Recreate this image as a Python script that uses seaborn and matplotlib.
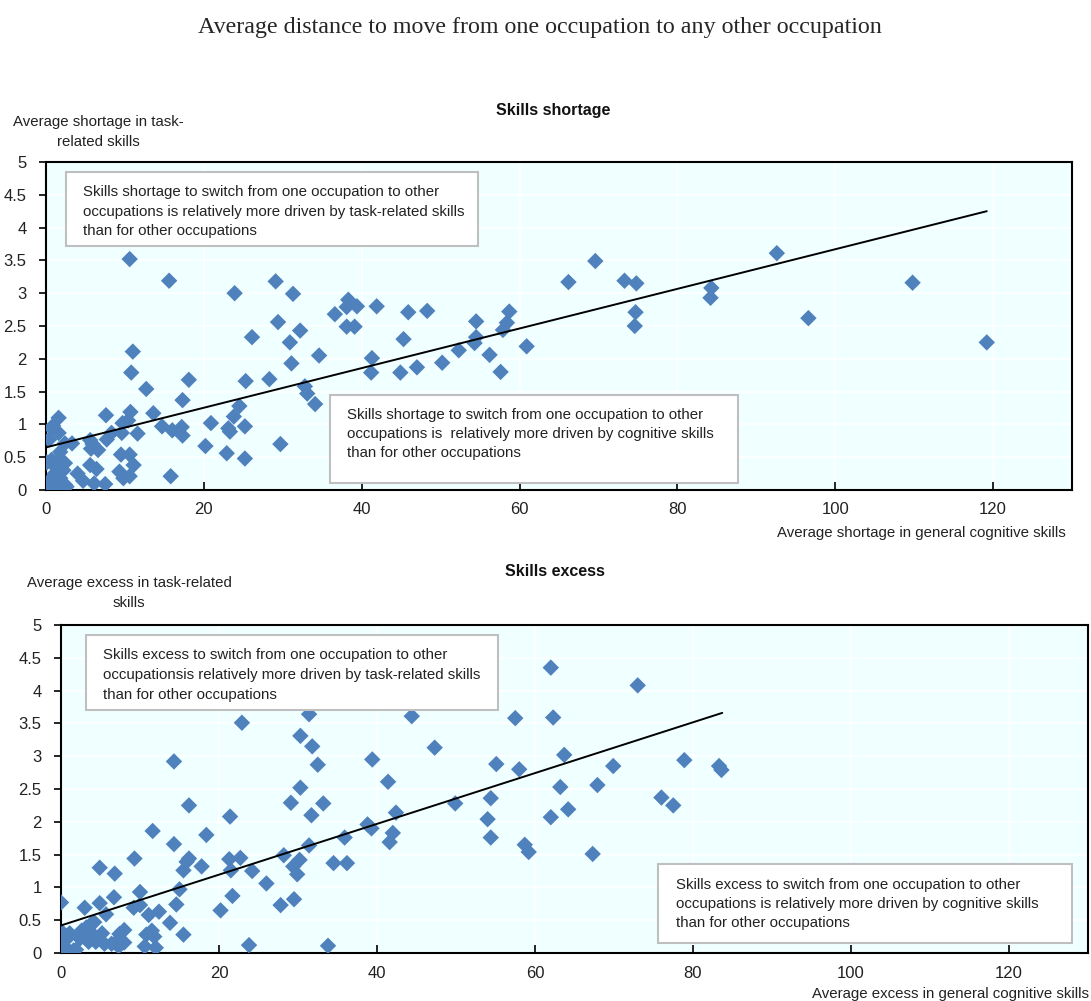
import numpy as np
import pandas as pd
import matplotlib
matplotlib.use("Agg")
import matplotlib.pyplot as plt
from matplotlib.patches import Rectangle
import seaborn as sns

# ---------------- data ----------------
short_x = [10.6, 15.6, 23.9, 29.1, 31.3, 29.4, 32.2, 26.1, 30.9, 31.1, 34.6, 28.3, 25.3, 18.1,
           12.7, 10.8, 11.0, 17.3, 13.6, 10.7, 10.4, 9.7, 7.6, 1.6, 14.7, 16.0, 17.2, 17.3, 20.9,
           23.1, 23.3, 23.8, 24.5, 25.2, 20.2, 22.9, 25.2, 29.7, 32.8, 33.1, 34.1, 15.8, 11.6, 9.6,
           8.3, 7.7, 6.6, 5.6, 5.7, 5.9, 3.3, 9.5, 10.6, 11.1, 9.3, 9.8, 10.6, 5.6, 6.4, 4.0, 4.7,
           6.1, 7.5, 0.7, 0.9, 0.4, 1.6, 2.4, 1.8, 1.6, 0.1, 0.7, 2.4, 2.2, 1.1, 0.5, 0.3, 1.4, 1.7,
           2.4, 2.6, 1.8, 1.3,
           36.6, 38.3, 38.1, 39.4, 38.1, 39.1, 41.9, 41.3, 41.2, 45.3, 45.9, 48.3, 44.9, 47.0, 50.2,
           52.3, 54.5, 54.5, 54.3, 56.2, 57.6, 57.9, 58.4, 58.7, 60.9, 66.2, 69.6, 73.3, 74.8, 74.7,
           74.6, 84.3, 84.2, 92.6, 109.8, 96.6, 119.2]
short_y = [3.52, 3.19, 3.00, 3.18, 2.99, 2.56, 2.43, 2.33, 2.25, 1.93, 2.05, 1.69, 1.66, 1.68,
           1.54, 1.79, 2.11, 1.37, 1.17, 1.19, 1.06, 1.02, 1.14, 1.10, 0.97, 0.91, 0.96, 0.83, 1.02,
           0.94, 0.89, 1.12, 1.28, 0.97, 0.67, 0.56, 0.48, 0.70, 1.58, 1.47, 1.31, 0.21, 0.86, 0.87,
           0.87, 0.77, 0.61, 0.76, 0.63, 0.70, 0.71, 0.54, 0.54, 0.38, 0.28, 0.18, 0.21, 0.38, 0.32,
           0.25, 0.14, 0.10, 0.09, 0.94, 0.98, 0.77, 0.87, 0.71, 0.58, 0.48, 0.42, 0.46, 0.41, 0.30,
           0.25, 0.15, 0.06, 0.03, 0.08, 0.08, 0.05, 0.18, 0.34,
           2.68, 2.90, 2.79, 2.80, 2.49, 2.49, 2.80, 2.01, 1.79, 2.30, 2.71, 2.73, 1.79, 1.87, 1.94,
           2.13, 2.57, 2.33, 2.24, 2.06, 1.80, 2.44, 2.55, 2.72, 2.19, 3.17, 3.49, 3.19, 3.15, 2.71,
           2.50, 3.08, 2.93, 3.61, 3.16, 2.62, 2.25]

excess_x = [0.0, 22.9, 14.3, 31.4, 30.3, 31.8, 32.5, 30.3, 29.1, 33.2, 31.7, 16.2, 21.4, 11.6,
            18.4, 35.9, 14.3, 31.4, 28.2, 30.2, 29.4, 29.9, 21.3, 22.7, 16.2, 15.9, 15.5, 17.8,
            21.5, 24.2, 34.5, 36.2, 9.3, 4.9, 6.8, 15.0, 10.0, 6.7, 26.0, 21.7, 29.5, 27.8, 20.2,
            14.6, 3.0, 4.9, 5.7, 9.2, 10.0, 12.4, 11.1, 13.8, 15.5, 23.8, 33.8,
            0.2, 1.1, 0.6, 0.05, 0.7, 1.6, 1.9, 2.6, 3.2, 3.8, 4.2, 3.0, 3.5, 4.0, 4.4, 5.2, 5.5,
            6.4, 7.0, 7.4, 8.0, 8.0, 7.3, 10.6, 10.8, 11.5, 11.8, 12.0, 2.4,
            44.4, 47.3, 39.4, 41.4, 42.4, 49.9, 38.8, 39.3, 42.0, 41.6, 55.1, 54.4, 54.0, 54.4,
            57.5, 58.0, 58.7, 59.2, 62.0, 62.3, 63.7, 63.2, 64.2, 62.0, 67.3, 67.9, 69.9, 73.0,
            76.0, 77.5, 78.9, 83.3, 83.6]
excess_y = [0.77, 3.51, 2.92, 3.64, 3.31, 3.15, 2.87, 2.52, 2.29, 2.28, 2.10, 2.25, 2.08, 1.86,
            1.80, 1.76, 1.66, 1.64, 1.49, 1.42, 1.32, 1.20, 1.43, 1.45, 1.44, 1.39, 1.26, 1.32,
            1.26, 1.25, 1.37, 1.37, 1.44, 1.30, 1.21, 0.97, 0.93, 0.85, 1.06, 0.87, 0.82, 0.73, 0.65,
            0.74, 0.69, 0.76, 0.59, 0.69, 0.73, 0.63, 0.58, 0.46, 0.28, 0.12, 0.11,
            0.31, 0.30, 0.20, 0.10, 0.07, 0.04, 0.05, 0.34, 0.39, 0.44, 0.47, 0.24, 0.17, 0.29,
            0.17, 0.30, 0.14, 0.14, 0.17, 0.29, 0.35, 0.16, 0.10, 0.10, 0.28, 0.34, 0.25, 0.08, 0.22,
            3.61, 3.13, 2.95, 2.61, 2.14, 2.28, 1.96, 1.90, 1.83, 1.69, 2.88, 2.36, 2.04, 1.76,
            3.58, 2.80, 1.65, 1.54, 4.35, 3.59, 3.02, 2.53, 2.19, 2.07, 1.51, 2.56, 2.85, 4.08,
            2.37, 2.25, 2.94, 2.85, 2.79]

trend_short_x = [0.0, 119.2]
trend_short_y = [0.65, 4.25]
trend_excess_x = [0.0, 83.7]
trend_excess_y = [0.42, 3.66]

x_ticks = [0, 20, 40, 60, 80, 100, 120]
y_ticks = [0, 0.5, 1, 1.5, 2, 2.5, 3, 3.5, 4, 4.5, 5]
y_ticklabels = ["0", "0.5", "1", "1.5", "2", "2.5", "3", "3.5", "4", "4.5", "5"]

main_title = "Average distance to move from one occupation to any other occupation"
panel_titles = ["Skills shortage", "Skills excess"]
y_labels = ["Average shortage in task-\nrelated skills", "Average excess in task-related\nskills"]
x_labels = ["Average shortage in general cognitive skills", "Average excess in general cognitive skills"]
box_texts = [
    ("Skills shortage to switch from one occupation to other\noccupations is relatively more driven by task-related skills\nthan for other occupations",
     "Skills shortage to switch from one occupation to other\noccupations is  relatively more driven by cognitive skills\nthan for other occupations"),
    ("Skills excess to switch from one occupation to other\noccupationsis relatively more driven by task-related skills\nthan for other occupations",
     "Skills excess to switch from one occupation to other\noccupations is relatively more driven by cognitive skills\nthan for other occupations"),
]

# ---------------- style ----------------
sns.set_theme(style="white")
FONT = ["Liberation Sans", "DejaVu Sans"]
plt.rcParams["font.family"] = FONT
marker_color = "#4F81BD"
bg = "#F0FFFF"

W, H = 1091, 1001
fig = plt.figure(figsize=(W / 100, H / 100), dpi=100)

def rect(l, t, r, b):
    return [l / W, 1 - b / H, (r - l) / W, (b - t) / H]

ax_pos = [rect(46, 162, 1072, 490), rect(61, 625, 1088, 953)]
# (box left, top, right, bottom), text left x, middle line y
boxes = [[((66, 172, 478, 246), 83, 212), ((330, 395, 738, 483), 347, 434)],
         [((86, 635, 498, 710), 103, 675), ((658, 864, 1072, 943), 676, 904)]]

fig.text(540 / W, 1 - 27 / H, main_title, ha="center", va="center",
         family=["Liberation Serif", "DejaVu Serif"], fontsize=17.3)

data = [(short_x, short_y, trend_short_x, trend_short_y),
        (excess_x, excess_y, trend_excess_x, trend_excess_y)]
ylab_pos = [(98, 132), (129, 593)]
title_pos = [(553, 110), (555, 572)]
TS = 10.8
LS = 1.5

for i, pos in enumerate(ax_pos):
    ax = fig.add_axes(pos)
    ax.set_facecolor(bg)
    xs, ys, tx, ty = data[i]
    df = pd.DataFrame({"x": xs, "y": ys})
    sns.scatterplot(data=df, x="x", y="y", ax=ax, marker="D", s=70, color=marker_color,
                    edgecolor="none", linewidth=0, zorder=3)
    tdf = pd.DataFrame({"x": tx, "y": ty})
    sns.lineplot(data=tdf, x="x", y="y", ax=ax, color="black", linewidth=1.4, zorder=4)
    ax.set_xlim(0, 130)
    ax.set_ylim(0, 5)
    ax.set_xticks(x_ticks)
    ax.set_yticks(y_ticks)
    ax.set_yticklabels(y_ticklabels)
    ax.grid(True, color="white", linewidth=1.2, zorder=0)
    ax.set_axisbelow(True)
    for s in ax.spines.values():
        s.set_color("black")
        s.set_linewidth(1.5)
    ax.tick_params(axis="x", direction="in", length=6, width=1.2, color="black",
                   labelsize=12, pad=9, bottom=True, labelcolor="#222222")
    ax.tick_params(axis="y", direction="out", length=5, width=1.2, color="black",
                   labelsize=12, pad=9, left=True, labelcolor="#222222")
    ax.set_xlabel("")
    ax.set_ylabel("")
    fig.text(ylab_pos[i][0] / W, 1 - ylab_pos[i][1] / H, y_labels[i], ha="center",
             va="center", fontsize=TS, linespacing=LS, color="#222222")
    fig.text(title_pos[i][0] / W, 1 - title_pos[i][1] / H, panel_titles[i], ha="center",
             va="center", fontsize=11.5, fontweight="bold", color="#111111")
    for j, txt in enumerate(box_texts[i]):
        (l, t, r, b), tx0, ty0 = boxes[i][j]
        fig.patches.append(Rectangle((l / W, 1 - b / H), (r - l) / W, (b - t) / H,
                                     transform=fig.transFigure, facecolor="white",
                                     edgecolor="#BFBFBF", linewidth=1.5, zorder=2))
        fig.text(tx0 / W, 1 - ty0 / H, txt, ha="left", va="center", fontsize=TS,
                 linespacing=LS, zorder=5, color="#222222")

fig.text(1066 / W, 1 - 533 / H, x_labels[0], ha="right", va="center", fontsize=TS,
         color="#222222")
fig.text(1089 / W, 1 - 994 / H, x_labels[1], ha="right", va="center", fontsize=TS,
         color="#222222")

fig.savefig("out.png", dpi=100)
